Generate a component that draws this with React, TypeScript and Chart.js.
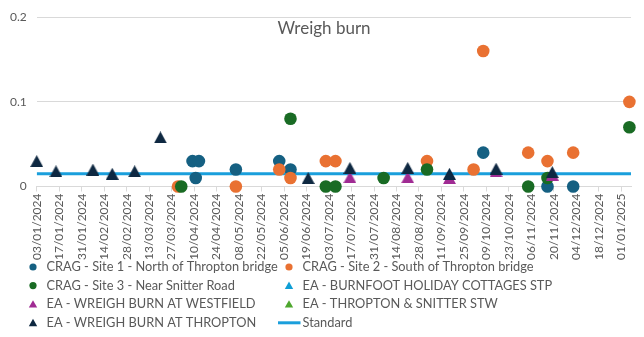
import React, { useEffect, useRef } from "react";
import { Chart, registerables } from "chart.js";

Chart.register(...registerables);

// ---------- data ----------
const TITLE = "Wreigh burn";
const AXIS_START = "2024-01-03";
const AXIS_END = "2025-01-07";
const TICK_STEP_DAYS = 14;
const Y_MAX = 0.2;
const Y_STEP = 0.1;
const STANDARD_VALUE = 0.015;

const site1Name = "CRAG - Site 1 - North of Thropton bridge";
const site1Dates = ["2024-04-09", "2024-04-11", "2024-04-13", "2024-05-06", "2024-06-02", "2024-06-09", "2024-10-07", "2024-11-16", "2024-12-02"];
const site1Values = [0.03, 0.01, 0.03, 0.02, 0.03, 0.02, 0.04, 0, 0];

const site2Name = "CRAG - Site 2 - South of Thropton bridge";
const site2Dates = ["2024-03-31", "2024-05-06", "2024-06-02", "2024-06-09", "2024-07-01", "2024-07-07", "2024-09-02", "2024-10-01", "2024-10-07", "2024-11-04", "2024-11-16", "2024-12-02", "2025-01-06"];
const site2Values = [0, 0, 0.02, 0.01, 0.03, 0.03, 0.03, 0.02, 0.16, 0.04, 0.03, 0.04, 0.1];

const site3Name = "CRAG - Site 3 - Near Snitter Road";
const site3Dates = ["2024-04-02", "2024-06-09", "2024-07-01", "2024-07-07", "2024-08-06", "2024-09-02", "2024-11-04", "2024-11-16", "2025-01-06"];
const site3Values = [0, 0.08, 0, 0, 0.01, 0.02, 0, 0.01, 0.07];

const burnfootName = "EA - BURNFOOT HOLIDAY COTTAGES STP";
const burnfootDates: string[] = [];
const burnfootValues: number[] = [];

const westfieldName = "EA - WREIGH BURN AT WESTFIELD";
const westfieldDates = ["2024-07-16", "2024-08-21", "2024-09-16", "2024-10-15", "2024-11-19"];
const westfieldValues = [0.011, 0.011, 0.01, 0.018, 0.014];

const snitterStwName = "EA - THROPTON & SNITTER STW";
const snitterStwDates: string[] = [];
const snitterStwValues: number[] = [];

const throptonName = "EA - WREIGH BURN AT THROPTON";
const throptonDates = ["2024-01-03", "2024-01-15", "2024-02-07", "2024-02-19", "2024-03-04", "2024-03-20", "2024-06-20", "2024-07-16", "2024-08-21", "2024-09-16", "2024-10-15", "2024-11-19"];
const throptonValues = [0.03, 0.018, 0.02, 0.015, 0.018, 0.058, 0.01, 0.022, 0.022, 0.015, 0.021, 0.017];

const standardName = "Standard";

// ---------- helpers ----------
const DAY_MS = 86400000;
const parseUTC = (s: string) => {
  const [y, m, d] = s.split("-").map(Number);
  return Date.UTC(y, m - 1, d);
};
const BASE_UTC = parseUTC(AXIS_START);
const toDay = (s: string) => Math.round((parseUTC(s) - BASE_UTC) / DAY_MS);
const pad2 = (n: number) => (n < 10 ? "0" + n : String(n));
const fmtDay = (v: number) => {
  const dt = new Date(BASE_UTC + v * DAY_MS);
  return pad2(dt.getUTCDate()) + "/" + pad2(dt.getUTCMonth() + 1) + "/" + dt.getUTCFullYear();
};
const zip = (dates: string[], vals: number[]) => dates.map((d, i) => ({ x: toDay(d), y: vals[i] }));

const FONT = "Lato, 'Noto Sans', sans-serif";
const TEXT_COLOR = "#595959";
const GRID_COLOR = "#d9d9d9";

function makeTriangle(color: string, w: number, h: number) {
  const c = document.createElement("canvas");
  c.width = w;
  c.height = h;
  const g = c.getContext("2d")!;
  g.fillStyle = color;
  g.beginPath();
  g.moveTo(w / 2, 0);
  g.lineTo(w, h);
  g.lineTo(0, h);
  g.closePath();
  g.fill();
  return c;
}

const titlePlugin = {
  id: "overlayTitle",
  afterDraw(chart: any) {
    const ctx = chart.ctx;
    ctx.save();
    ctx.font = "17px " + FONT;
    ctx.fillStyle = TEXT_COLOR;
    ctx.textAlign = "center";
    ctx.textBaseline = "middle";
    ctx.fillText(TITLE, chart.width / 2 + 2, 29);
    ctx.restore();
  },
};

const legendPlugin = {
  id: "gridLegend",
  afterDraw(chart: any) {
    const ctx = chart.ctx;
    const items = chart.data.datasets.map((ds: any) => ds);
    const colX = [33, 289];
    const textOffset = 13.5;
    const rowY0 = 267;
    const rowH = 18.6;
    ctx.save();
    ctx.font = "12.8px " + FONT;
    ctx.textBaseline = "middle";
    items.forEach((ds: any, i: number) => {
      const col = i % 2;
      const row = Math.floor(i / 2);
      const cx = colX[col];
      const cy = rowY0 + row * rowH;
      const color = ds._legendColor;
      ctx.fillStyle = color;
      ctx.strokeStyle = color;
      if (ds.showLine) {
        ctx.lineWidth = 3;
        ctx.beginPath();
        ctx.moveTo(cx + textOffset - 24.5, cy);
        ctx.lineTo(cx + textOffset - 2, cy);
        ctx.stroke();
      } else if (ds._shape === "circle") {
        ctx.beginPath();
        ctx.arc(cx, cy, 3.6, 0, Math.PI * 2);
        ctx.fill();
      } else {
        ctx.beginPath();
        ctx.moveTo(cx, cy - 4);
        ctx.lineTo(cx + 4.2, cy + 3.4);
        ctx.lineTo(cx - 4.2, cy + 3.4);
        ctx.closePath();
        ctx.fill();
      }
      ctx.fillStyle = TEXT_COLOR;
      ctx.fillText(ds.label, cx + textOffset, cy);
    });
    ctx.restore();
  },
};

export default function App() {
  const ref = useRef<HTMLCanvasElement | null>(null);

  useEffect(() => {
    document.body.style.margin = "0";
    const canvas = ref.current;
    if (!canvas) return;
    const xMax = toDay(AXIS_END);

    const circleDs = (label: string, data: any[], color: string, order: number) => ({
      label,
      data,
      pointStyle: "circle",
      pointRadius: 6.3,
      pointHoverRadius: 6.3,
      pointBorderWidth: 0,
      backgroundColor: color,
      borderColor: color,
      clip: false,
      order,
      _legendColor: color,
      _shape: "circle",
    });
    const triDs = (label: string, data: any[], color: string, order: number) => ({
      label,
      data,
      pointStyle: makeTriangle(color, 13, 12),
      pointRadius: 6,
      backgroundColor: color,
      borderColor: color,
      clip: false,
      order,
      _legendColor: color,
      _shape: "triangle",
    });

    const datasets: any[] = [
      circleDs(site1Name, zip(site1Dates, site1Values), "#156082", 10),
      circleDs(site2Name, zip(site2Dates, site2Values), "#e97132", 9),
      circleDs(site3Name, zip(site3Dates, site3Values), "#196b24", 8),
      triDs(burnfootName, zip(burnfootDates, burnfootValues), "#0f9ed5", 7),
      triDs(westfieldName, zip(westfieldDates, westfieldValues), "#a02b93", 6),
      triDs(snitterStwName, zip(snitterStwDates, snitterStwValues), "#4ea72e", 5),
      triDs(throptonName, zip(throptonDates, throptonValues), "#0e2841", 4),
      {
        label: standardName,
        data: [
          { x: 0, y: STANDARD_VALUE },
          { x: xMax, y: STANDARD_VALUE },
        ],
        showLine: true,
        borderColor: "#1a9fdc",
        backgroundColor: "#1a9fdc",
        borderWidth: 3,
        pointRadius: 0,
        order: 20,
        _legendColor: "#1a9fdc",
        _shape: "line",
      },
    ];

    const chart = new Chart(canvas, {
      type: "scatter",
      data: { datasets },
      options: {
        animation: false,
        responsive: false,
        devicePixelRatio: 1,
        layout: { padding: { left: 0, right: 13, top: 16, bottom: 0 } },
        plugins: {
          legend: { display: false },
          title: { display: false },
          tooltip: { enabled: false },
        },
        scales: {
          x: {
            type: "linear",
            min: 0,
            max: xMax,
            afterFit: (scale: any) => {
              scale.height = 150.5;
            },
            grid: {
              display: true,
              drawOnChartArea: false,
              drawTicks: true,
              tickLength: 5,
              color: GRID_COLOR,
            },
            border: { display: true, color: GRID_COLOR },
            ticks: {
              stepSize: TICK_STEP_DAYS,
              includeBounds: false,
              autoSkip: false,
              maxRotation: 90,
              minRotation: 90,
              padding: 2,
              color: TEXT_COLOR,
              font: { family: FONT, size: 12 },
              callback: (v: any) => fmtDay(Number(v)),
            },
          },
          y: {
            min: 0,
            max: Y_MAX,
            afterFit: (scale: any) => {
              scale.width = 36.7;
            },
            grid: { color: GRID_COLOR, drawTicks: false },
            border: { display: false },
            ticks: {
              stepSize: Y_STEP,
              padding: 10,
              color: TEXT_COLOR,
              font: { family: FONT, size: 12 },
              callback: (v: any) => String(Math.round(Number(v) * 10) / 10),
            },
          },
        },
      },
      plugins: [titlePlugin, legendPlugin],
    } as any);

    return () => chart.destroy();
  }, []);

  return (
    <div style={{ width: 644, height: 337, position: "relative", background: "#fff" }}>
      <canvas ref={ref} width={644} height={337} style={{ display: "block" }} />
    </div>
  );
}
